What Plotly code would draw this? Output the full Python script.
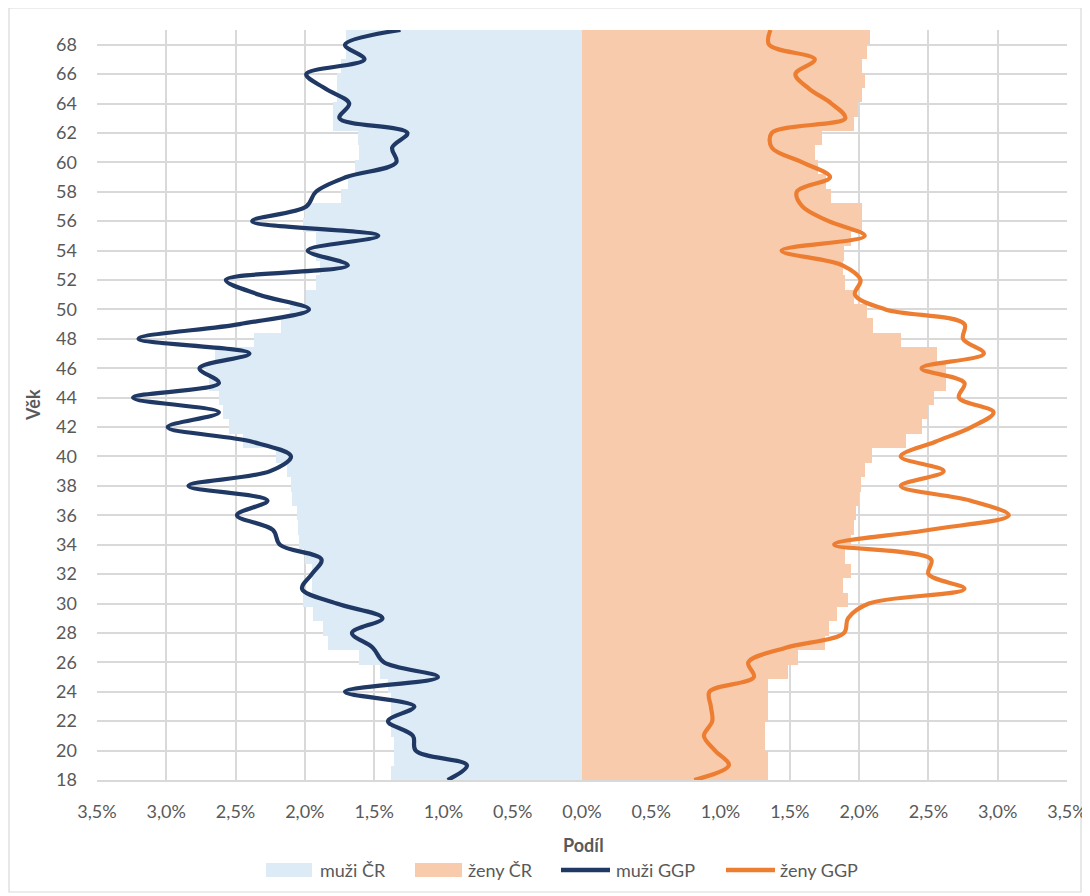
import plotly.graph_objects as go

# ---- data (percent shares) ----
ages = list(range(18, 70))
age_labels = [str(a) for a in ages]

muzi_cr = [1.38, 1.36, 1.36, 1.38, 1.38, 1.38, 1.40, 1.46, 1.61, 1.83,
           1.87, 1.94, 2.01, 1.95, 1.95, 2.00, 2.04, 2.05, 2.06, 2.09,
           2.10, 2.13, 2.21, 2.45, 2.55, 2.59, 2.62, 2.69, 2.71, 2.65,
           2.37, 2.17, 2.11, 1.99, 1.92, 1.89, 1.92, 1.92, 2.01, 2.00,
           1.74, 1.69, 1.64, 1.61, 1.62, 1.80, 1.80, 1.77, 1.77, 1.74,
           1.70, 1.70]

zeny_cr = [1.34, 1.34, 1.32, 1.32, 1.34, 1.34, 1.34, 1.49, 1.56, 1.75,
           1.78, 1.84, 1.92, 1.88, 1.94, 1.90, 1.94, 1.96, 1.98, 2.00,
           2.01, 2.04, 2.09, 2.34, 2.45, 2.50, 2.54, 2.63, 2.63, 2.56,
           2.30, 2.10, 2.06, 1.96, 1.90, 1.88, 1.89, 1.94, 2.02, 2.02,
           1.80, 1.76, 1.70, 1.68, 1.73, 1.96, 1.99, 2.02, 2.04, 2.02,
           2.06, 2.08]

muzi_ggp = [0.97, 0.83, 1.20, 1.22, 1.40, 1.21, 1.71, 1.04, 1.43, 1.51,
            1.66, 1.44, 1.77, 2.02, 1.95, 1.88, 2.18, 2.23, 2.49, 2.27,
            2.84, 2.25, 2.10, 2.38, 2.99, 2.62, 3.24, 2.62, 2.76, 2.40,
            3.20, 2.47, 1.97, 2.33, 2.57, 1.69, 1.98, 1.47, 2.38, 1.99,
            1.92, 1.70, 1.34, 1.37, 1.26, 1.75, 1.68, 1.85, 1.99, 1.57,
            1.71, 1.31]

zeny_ggp = [0.81, 1.06, 0.96, 0.88, 0.94, 0.93, 0.92, 1.24, 1.20, 1.47,
            1.89, 1.92, 2.07, 2.76, 2.50, 2.52, 1.82, 2.50, 3.08, 2.80,
            2.30, 2.61, 2.30, 2.55, 2.81, 2.97, 2.72, 2.76, 2.45, 2.90,
            2.75, 2.76, 2.19, 1.97, 2.01, 1.88, 1.44, 2.04, 1.78, 1.59,
            1.55, 1.79, 1.59, 1.37, 1.37, 1.90, 1.80, 1.64, 1.54, 1.68,
            1.35, 1.36]

x_tickvals = [-3.5, -3.0, -2.5, -2.0, -1.5, -1.0, -0.5, 0.0,
              0.5, 1.0, 1.5, 2.0, 2.5, 3.0, 3.5]
x_ticktext = ["3,5%", "3,0%", "2,5%", "2,0%", "1,5%", "1,0%", "0,5%", "0,0%",
              "0,5%", "1,0%", "1,5%", "2,0%", "2,5%", "3,0%", "3,5%"]
y_tickvals = list(range(18, 69, 2))

series_names = ["muži ČR", "ženy ČR", "muži GGP", "ženy GGP"]
series_colors = ["#DDEBF7", "#F8CBAD", "#1F3864", "#ED7D31"]

FONT = "Lato"
GREY = "#595959"
GRID = "#D9D9D9"
FS = 18

fig = go.Figure()
fig.add_trace(go.Bar(y=age_labels, x=[-v for v in muzi_cr], orientation="h",
                     name=series_names[0],
                     marker=dict(color=series_colors[0], line=dict(width=0)),
                     yaxis="y", showlegend=False))
fig.add_trace(go.Bar(y=age_labels, x=zeny_cr, orientation="h",
                     name=series_names[1],
                     marker=dict(color=series_colors[1], line=dict(width=0)),
                     yaxis="y", showlegend=False))
fig.add_trace(go.Scatter(y=ages, x=[-v for v in muzi_ggp], mode="lines",
                         name=series_names[2],
                         line=dict(color=series_colors[2], width=4.2,
                                   shape="spline", smoothing=1.0),
                         yaxis="y2", showlegend=False))
fig.add_trace(go.Scatter(y=ages, x=zeny_ggp, mode="lines",
                         name=series_names[3],
                         line=dict(color=series_colors[3], width=4.2,
                                   shape="spline", smoothing=1.0),
                         yaxis="y2", showlegend=False))

# the page body adds an 8px offset; target plot area in screen pixels is
# x 97..1067, y 30..780
OFF = 8
W, H = 1090, 896
PX0, PX1, PY0, PY1 = 97, 1067, 30, 780
L, T = PX0 - OFF, PY0 - OFF
pw, ph = PX1 - PX0, PY1 - PY0
R, B = W - L - pw, H - T - ph


def px(xp):
    return (xp - PX0) / pw


def py(yp):
    return (PY1 - yp) / ph


fig.update_layout(
    width=W, height=H,
    margin=dict(l=L, r=R, t=T, b=B, autoexpand=False),
    paper_bgcolor="white", plot_bgcolor="white",
    font=dict(family=FONT, size=FS, color=GREY),
    barmode="relative", bargap=0,
    xaxis=dict(range=[-3.5, 3.5], tickvals=x_tickvals, ticktext=x_ticktext,
               showgrid=True, gridcolor=GRID, gridwidth=1.5, zeroline=False,
               showline=True, linecolor=GRID, linewidth=1.5,
               ticks="", ticklabelstandoff=15, tickfont=dict(size=FS, color=GREY)),
    yaxis=dict(type="category", categoryorder="array", categoryarray=age_labels,
               range=[-0.5, len(ages) - 0.5], visible=False, showgrid=False),
    yaxis2=dict(overlaying="y", side="left", range=[18, 69], tickvals=y_tickvals,
                showgrid=True, gridcolor=GRID, gridwidth=1.5, zeroline=False,
                ticks="", ticklabelstandoff=19, tickfont=dict(size=FS, color=GREY)),
    showlegend=False,
)

# axis titles
fig.add_annotation(text="<b>Věk</b>", xref="paper", yref="paper",
                   x=px(33), y=py(405), textangle=-90, showarrow=False,
                   font=dict(size=FS, color=GREY, family=FONT),
                   xanchor="center", yanchor="middle")
fig.add_annotation(text="<b>Podíl</b>", xref="paper", yref="paper",
                   x=px(583), y=py(845), showarrow=False,
                   font=dict(size=FS, color=GREY, family=FONT),
                   xanchor="center", yanchor="middle")

# legend (drawn as layout items to match the Excel-style wide swatches)
leg_y = 870
swatches = [(266, 312, 318, "rect"), (415, 462, 466, "rect"),
            (561, 610, 614, "line"), (726, 775, 778, "line")]
for (x0, x1, xt, kind), name, col in zip(swatches, series_names, series_colors):
    if kind == "rect":
        fig.add_shape(type="rect", xref="paper", yref="paper",
                      x0=px(x0), x1=px(x1), y0=py(leg_y + 7), y1=py(leg_y - 7),
                      fillcolor=col, line=dict(width=0))
    else:
        fig.add_shape(type="line", xref="paper", yref="paper",
                      x0=px(x0), x1=px(x1), y0=py(leg_y), y1=py(leg_y),
                      line=dict(color=col, width=4.5))
    fig.add_annotation(text=name, xref="paper", yref="paper",
                       x=px(xt), y=py(leg_y), showarrow=False,
                       xanchor="left", yanchor="middle",
                       font=dict(size=FS, color=GREY, family=FONT))

# chart border
fig.add_shape(type="rect", xref="paper", yref="paper",
              x0=px(9), x1=px(1081), y0=py(892), y1=py(8),
              line=dict(color=GRID, width=1.2), layer="below")

fig.write_html("out.html")
